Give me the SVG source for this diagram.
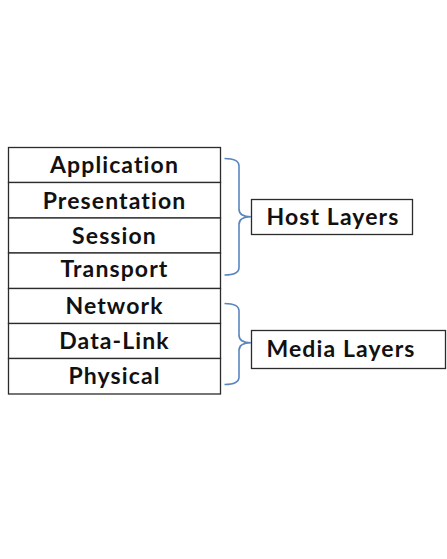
<svg xmlns="http://www.w3.org/2000/svg" width="447" height="559" viewBox="0 0 447 559">
<style>
.box{fill:#fff;stroke:#2b2b2b;stroke-width:1.3}
.t{font-family:Lato,"Open Sans","Liberation Sans",sans-serif;font-weight:bold;font-size:23px;letter-spacing:1.1px;font-variant-ligatures:none;fill:#111}
.c{text-anchor:middle}
.br{fill:none;stroke:#5a86c0;stroke-width:1.6}
</style>
<rect width="447" height="559" fill="#fff"/>
<g id="application"><rect class="box" x="8.5" y="147.5" width="212" height="35"/><text class="t c" x="114.5" y="173">Application</text></g>
<g id="presentation"><rect class="box" x="8.5" y="182.5" width="212" height="35.5"/><text class="t c" x="114.5" y="208.5">Presentation</text></g>
<g id="session"><rect class="box" x="8.5" y="218" width="212" height="35"/><text class="t c" x="114.5" y="243.5">Session</text></g>
<g id="transport"><rect class="box" x="8.5" y="253" width="212" height="35.5"/><text class="t c" x="114.5" y="277">Transport</text></g>
<g id="network"><rect class="box" x="8.5" y="288.5" width="212" height="35"/><text class="t c" x="114.5" y="313.5">Network</text></g>
<g id="datalink"><rect class="box" x="8.5" y="323.5" width="212" height="35"/><text class="t c" x="114.5" y="348.5">Data-Link</text></g>
<g id="physical"><rect class="box" x="8.5" y="358.5" width="212" height="35.5"/><text class="t c" x="114.5" y="383.5">Physical</text></g>
<g id="host"><rect class="box" x="251.5" y="199.5" width="161" height="35"/><text class="t" x="266.5" y="225" letter-spacing="1.3">Host Layers</text></g>
<g id="media"><rect class="box" x="251.5" y="330.5" width="194" height="38"/><text class="t" x="266.5" y="356.5" letter-spacing="1.3">Media Layers</text></g>
<g id="connectors">
<path class="br" d="M224.5,158.5 Q239,158.5 239,166 V209 Q239,216.7 251,216.7 Q239,216.7 239,224.5 V267.5 Q239,275 224.5,275"/>
<path class="br" d="M224.5,303.5 Q239,303.5 239,311 V335 Q239,342.7 251,342.7 Q239,342.7 239,350.5 V377 Q239,384.5 224.5,384.5"/>
</g>
</svg>
